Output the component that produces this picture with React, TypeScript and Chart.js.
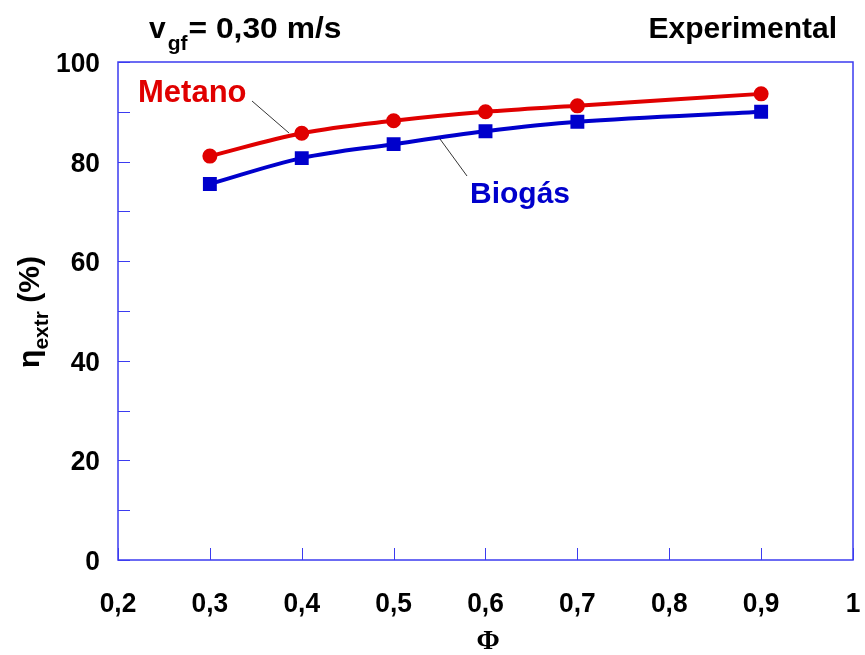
import React, { useEffect, useRef } from "react";
import { Chart, registerables } from "chart.js";

Chart.register(...registerables);

const phiValues = [0.3, 0.4, 0.5, 0.6, 0.7, 0.9];
const metanoValues = [81.1, 85.7, 88.2, 90.0, 91.2, 93.6];
const biogasValues = [75.5, 80.7, 83.5, 86.1, 88.0, 90.0];
const xTickValues = [0.2, 0.3, 0.4, 0.5, 0.6, 0.7, 0.8, 0.9, 1.0];
const xTickLabels = ["0,2", "0,3", "0,4", "0,5", "0,6", "0,7", "0,8", "0,9", "1"];
const yTickValues = [0, 20, 40, 60, 80, 100];
const yTickLabels = ["0", "20", "40", "60", "80", "100"];

const FONT = '"Liberation Sans", Arial, sans-serif';
const AXIS_BLUE = "#3b3bf0";
const RED = "#e00000";
const BLUE = "#0000cc";

// text drawn with a horizontal scale factor, anchored at x
function scaledText(
  ctx: CanvasRenderingContext2D,
  text: string,
  x: number,
  y: number,
  align: "left" | "right" | "center",
  sx: number
) {
  ctx.save();
  ctx.translate(x, y);
  ctx.scale(sx, 1);
  ctx.textAlign = align;
  ctx.fillText(text, 0, 0);
  ctx.restore();
}

const decorations = {
  id: "decorations",
  afterDraw(chart: any) {
    const ctx = chart.ctx as CanvasRenderingContext2D;
    const { left, right, top, bottom } = chart.chartArea;
    const xs = chart.scales.x;
    const ys = chart.scales.y;
    ctx.save();

    // frame
    ctx.strokeStyle = AXIS_BLUE;
    ctx.lineWidth = 1.5;
    ctx.strokeRect(left, top, right - left, bottom - top);

    // inward tick marks
    ctx.lineWidth = 1;
    for (const v of xTickValues) {
      const px = Math.round(xs.getPixelForValue(v)) + 0.5;
      ctx.beginPath();
      ctx.moveTo(px, bottom);
      ctx.lineTo(px, bottom - 12);
      ctx.stroke();
    }
    for (let v = 0; v <= 100; v += 10) {
      const py = Math.round(ys.getPixelForValue(v)) + 0.5;
      ctx.beginPath();
      ctx.moveTo(left, py);
      ctx.lineTo(left + 12, py);
      ctx.stroke();
    }

    // tick labels
    ctx.fillStyle = "#000";
    ctx.textBaseline = "alphabetic";
    ctx.font = `bold 28px ${FONT}`;
    xTickValues.forEach((v, i) => {
      scaledText(ctx, xTickLabels[i], xs.getPixelForValue(v), 612, "center", 0.94);
    });
    yTickValues.forEach((v, i) => {
      scaledText(ctx, yTickLabels[i], left - 18, ys.getPixelForValue(v) + 10, "right", 0.94);
    });

    // series labels with leader lines
    ctx.strokeStyle = "#000";
    ctx.lineWidth = 0.8;
    ctx.beginPath();
    ctx.moveTo(252, 101);
    ctx.lineTo(289, 133);
    ctx.moveTo(440, 139);
    ctx.lineTo(467, 176);
    ctx.stroke();

    ctx.textAlign = "left";
    ctx.font = `bold 31px ${FONT}`;
    ctx.fillStyle = RED;
    ctx.fillText("Metano", 138, 102);
    ctx.font = `bold 30px ${FONT}`;
    ctx.fillStyle = BLUE;
    ctx.fillText("Biogás", 470, 203);

    // header texts
    ctx.fillStyle = "#000";
    ctx.font = `bold 30px ${FONT}`;
    ctx.textAlign = "right";
    ctx.fillText("Experimental", 837, 38);
    ctx.textAlign = "left";
    let x = 149;
    ctx.fillText("v", x, 38);
    x += ctx.measureText("v").width + 2;
    ctx.font = `bold 21px ${FONT}`;
    ctx.fillText("gf", x, 50);
    x += ctx.measureText("gf").width + 1;
    ctx.font = `bold 30px ${FONT}`;
    scaledText(ctx, "= 0,30 m/s", x, 38, "left", 1.06);

    // x axis title
    ctx.textAlign = "center";
    ctx.font = `bold 28px "Liberation Serif", "Times New Roman", serif`;
    ctx.fillText("Φ", 488, 649);

    // y axis title, rotated
    ctx.translate(39, 312);
    ctx.rotate(-Math.PI / 2);
    ctx.textAlign = "left";
    const big = `bold 30px ${FONT}`;
    const small = `bold 21px ${FONT}`;
    ctx.font = big;
    const w1 = ctx.measureText("η").width;
    ctx.font = small;
    const w2 = ctx.measureText("extr").width;
    ctx.font = big;
    const w3 = ctx.measureText(" (%)").width;
    let tx = -(w1 + w2 + w3) / 2;
    ctx.fillText("η", tx, 0);
    tx += w1;
    ctx.font = small;
    ctx.fillText("extr", tx, 9);
    tx += w2;
    ctx.font = big;
    ctx.fillText(" (%)", tx, 0);

    ctx.restore();
  },
};

export default function App() {
  const canvasRef = useRef<HTMLCanvasElement | null>(null);

  useEffect(() => {
    document.body.style.margin = "0";
    const canvas = canvasRef.current;
    if (!canvas) return;
    const chart = new Chart(canvas, {
      type: "line",
      data: {
        datasets: [
          {
            label: "Metano",
            data: phiValues.map((p, i) => ({ x: p, y: metanoValues[i] })),
            borderColor: RED,
            backgroundColor: RED,
            borderWidth: 4,
            pointStyle: "circle",
            pointRadius: 5.5,
            tension: 0.35,
          },
          {
            label: "Biogás",
            data: phiValues.map((p, i) => ({ x: p, y: biogasValues[i] })),
            borderColor: BLUE,
            backgroundColor: BLUE,
            borderWidth: 4,
            pointStyle: "rect",
            pointRadius: 7,
            tension: 0.35,
          },
        ],
      },
      options: {
        animation: false,
        responsive: false,
        layout: { padding: { top: 62, right: 12, left: 0, bottom: 0 } },
        plugins: { legend: { display: false }, tooltip: { enabled: false } },
        scales: {
          x: {
            type: "linear",
            min: 0.2,
            max: 1.0,
            afterFit: (scale: any) => {
              scale.height = 95;
            },
            grid: { display: false, drawTicks: false },
            border: { display: false },
            ticks: { display: false },
          },
          y: {
            type: "linear",
            min: 0,
            max: 100,
            afterFit: (scale: any) => {
              scale.width = 118;
            },
            grid: { display: false, drawTicks: false },
            border: { display: false },
            ticks: { display: false, stepSize: 10 },
          },
        },
      },
      plugins: [decorations],
    } as any);
    return () => chart.destroy();
  }, []);

  return (
    <div style={{ width: 865, height: 655, position: "relative", background: "#fff" }}>
      <canvas ref={canvasRef} width={865} height={655} style={{ display: "block" }} />
    </div>
  );
}
